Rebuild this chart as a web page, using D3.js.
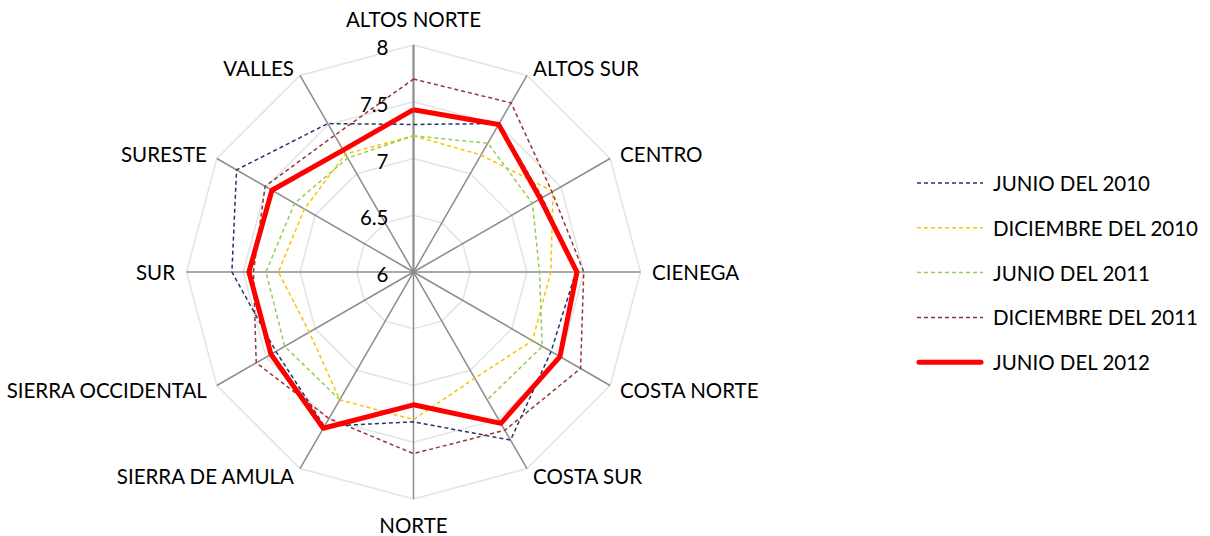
<!DOCTYPE html>
<html>
<head>
<meta charset="utf-8">
<script src="https://cdn.jsdelivr.net/npm/d3@7"></script>
<style>
  body { margin: 0; background: #fff; }
  text { font-family: Lato, "Liberation Sans", sans-serif; font-size: 20.5px; fill: #000; }
</style>
</head>
<body>
<div id="chart"></div>
<script>
// regions, clockwise from the top
var categories = ["ALTOS NORTE", "ALTOS SUR", "CENTRO", "CIENEGA", "COSTA NORTE", "COSTA SUR",
                  "NORTE", "SIERRA DE AMULA", "SIERRA OCCIDENTAL", "SUR", "SURESTE", "VALLES"];
var seriesNames = ["JUNIO DEL 2010", "DICIEMBRE DEL 2010", "JUNIO DEL 2011", "DICIEMBRE DEL 2011", "JUNIO DEL 2012"];
var junio2010     = [7.30, 7.51, 7.31, 7.43, 7.40, 7.71, 7.32, 7.57, 7.40, 7.60, 7.80, 7.51];
var diciembre2010 = [7.20, 7.19, 7.42, 7.21, 7.21, 7.08, 7.30, 7.30, 7.06, 7.19, 7.11, 7.20];
var junio2011     = [7.20, 7.31, 7.21, 7.11, 7.31, 7.30, null, 7.30, 7.31, 7.30, 7.21, 7.16];
var diciembre2011 = [7.70, 7.72, 7.41, 7.50, 7.70, 7.61, 7.60, 7.49, 7.60, 7.41, 7.51, 7.39];
var junio2012     = [7.43, 7.50, 7.29, 7.44, 7.49, 7.54, 7.17, 7.59, 7.45, 7.45, 7.44, 7.24];
var tickValues = [6, 6.5, 7, 7.5, 8];

var width = 1210, height = 536,
    cx = 413.5, cy = 272, radius = 227,
    rScale = d3.scaleLinear().domain([6, 8]).range([0, radius]),
    angle = d3.scaleLinear().domain([0, categories.length]).range([0, 2 * Math.PI]),
    colors = d3.scaleOrdinal()
        .domain(seriesNames)
        .range(["#1f3864", "#ffc000", "#92d050", "#953735", "#ff0000"]);

var series = [junio2010, diciembre2010, junio2011, diciembre2011, junio2012];

var svg = d3.select("#chart").append("svg")
    .attr("width", width)
    .attr("height", height);

svg.append("rect").attr("width", width).attr("height", height).attr("fill", "#fff");

var g = svg.append("g")
    .attr("transform", "translate(" + cx + "," + cy + ")");

function px(i, r) { return r * Math.sin(angle(i)); }
function py(i, r) { return -r * Math.cos(angle(i)); }

// grid rings
g.selectAll(".ring")
    .data(tickValues.slice(1))
    .enter().append("polygon")
    .attr("class", "ring")
    .attr("points", function(t) {
        return categories.map(function(c, i) {
            return px(i, rScale(t)) + "," + py(i, rScale(t));
        }).join(" ");
    })
    .attr("fill", "none")
    .attr("stroke", "#e4e4e4")
    .attr("stroke-width", 1.5);

// spokes
g.selectAll(".spoke")
    .data(categories)
    .enter().append("line")
    .attr("class", "spoke")
    .attr("x1", 0).attr("y1", 0)
    .attr("x2", function(d, i) { return px(i, radius); })
    .attr("y2", function(d, i) { return py(i, radius); })
    .attr("stroke", "#8c8c8c")
    .attr("stroke-width", function(d, i) { return i === 0 ? 2.2 : 1.5; });

// value labels
g.selectAll(".tick")
    .data(tickValues)
    .enter().append("text")
    .attr("class", "tick")
    .attr("x", -25)
    .attr("y", function(t) { return -rScale(t) + 2; })
    .attr("dominant-baseline", "central")
    .attr("text-anchor", "end")
    .text(function(t) { return t; });

// category labels
g.selectAll(".cat")
    .data(categories)
    .enter().append("text")
    .attr("class", "cat")
    .attr("x", function(d, i) {
        var s = Math.sin(angle(i));
        if (Math.abs(s) < 0.1) return 0;
        return px(i, radius) + (s > 0 ? 1 : -1) * (6 + (Math.abs(s) - 0.5) * 11);
    })
    .attr("y", function(d, i) {
        var s = Math.sin(angle(i)), c = Math.cos(angle(i));
        return py(i, radius) - c * (Math.abs(s) < 0.1 ? 26 : 9);
    })
    .attr("dominant-baseline", "central")
    .attr("text-anchor", function(d, i) {
        var s = Math.sin(angle(i));
        return Math.abs(s) < 0.1 ? "middle" : (s > 0 ? "start" : "end");
    })
    .text(function(d) { return d; });

// series lines, closed by repeating the first point
var line = d3.line()
    .defined(function(d) { return d.v != null; })
    .x(function(d) { return px(d.i, rScale(d.v)); })
    .y(function(d) { return py(d.i, rScale(d.v)); });

series.forEach(function(values, k) {
    var pts = values.map(function(v, i) { return {i: i, v: v}; });
    pts.push({i: values.length, v: values[0]});
    var last = k === series.length - 1;
    g.append("path")
        .datum(pts)
        .attr("class", "line")
        .attr("d", line)
        .attr("fill", "none")
        .attr("stroke", colors(seriesNames[k]))
        .attr("stroke-width", last ? 5 : 1.5)
        .attr("stroke-linejoin", "round")
        .attr("stroke-dasharray", last ? null : "4,3");
});

// legend
var legend = svg.append("g")
    .attr("transform", "translate(917,183)");

var items = legend.selectAll(".item")
    .data(seriesNames)
    .enter().append("g")
    .attr("class", "item")
    .attr("transform", function(d, i) { return "translate(0," + (i * 44.8) + ")"; });

items.append("line")
    .attr("x1", function(d, i) { return i === 4 ? 2 : 0; })
    .attr("x2", function(d, i) { return i === 4 ? 64 : 66; })
    .attr("stroke", function(d) { return colors(d); })
    .attr("stroke-width", function(d, i) { return i === 4 ? 5 : 1.5; })
    .attr("stroke-linecap", function(d, i) { return i === 4 ? "round" : "butt"; })
    .attr("stroke-dasharray", function(d, i) { return i === 4 ? null : "4,3"; });

items.append("text")
    .attr("x", 76)
    .attr("dominant-baseline", "central")
    .text(function(d) { return d; });
</script>
</body>
</html>
